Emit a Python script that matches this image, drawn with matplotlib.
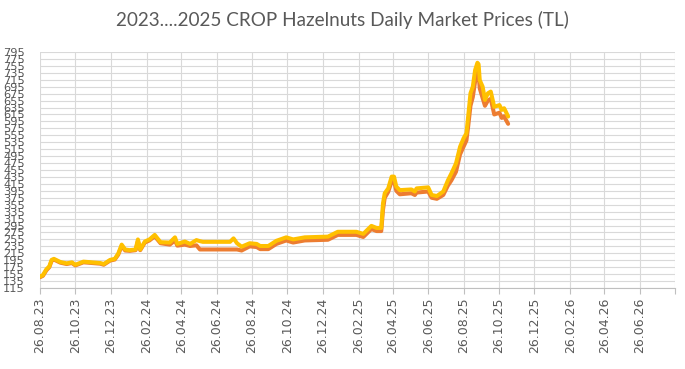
import numpy as np
import pandas as pd
import matplotlib
matplotlib.use("Agg")
import matplotlib.pyplot as plt
import matplotlib.dates as mdates

# Daily price readings (TL)
dates = [
    "2023-08-26", "2023-08-31", "2023-09-06", "2023-09-11", "2023-09-15", "2023-09-19",
    "2023-09-30", "2023-10-11", "2023-10-20", "2023-10-26", "2023-11-09", "2023-12-08",
    "2023-12-14", "2023-12-25", "2024-01-02", "2024-01-08", "2024-01-14", "2024-01-20",
    "2024-01-28", "2024-02-07", "2024-02-11", "2024-02-15", "2024-02-23", "2024-03-02",
    "2024-03-11", "2024-03-21", "2024-04-06", "2024-04-15", "2024-04-19", "2024-05-02",
    "2024-05-11", "2024-05-22", "2024-05-28", "2024-06-02", "2024-07-19", "2024-07-25",
    "2024-07-31", "2024-08-08", "2024-08-22", "2024-09-03", "2024-09-09", "2024-09-23",
    "2024-10-07", "2024-10-24", "2024-11-05", "2024-11-25", "2025-01-04", "2025-01-21",
    "2025-02-22", "2025-03-06", "2025-03-20", "2025-03-29", "2025-04-06", "2025-04-09",
    "2025-04-12", "2025-04-18", "2025-04-24", "2025-04-28", "2025-05-02", "2025-05-08",
    "2025-05-28", "2025-06-03", "2025-06-06", "2025-06-26", "2025-07-02", "2025-07-11",
    "2025-07-22", "2025-07-30", "2025-08-05", "2025-08-13", "2025-08-20", "2025-08-26",
    "2025-08-31", "2025-09-03", "2025-09-07", "2025-09-11", "2025-09-15", "2025-09-19",
    "2025-09-21", "2025-09-23", "2025-09-28", "2025-10-02", "2025-10-07", "2025-10-12",
    "2025-10-16", "2025-10-18", "2025-10-27", "2025-10-31", "2025-11-04", "2025-11-07",
    "2025-11-11",
]

price_yellow = [
    148, 152, 169, 177, 196, 199,
    190, 186, 189, 182, 191, 187,
    184, 196, 199, 214, 240, 226,
    224, 226, 255, 226, 249, 255,
    268, 247, 246, 261, 242, 249,
    242, 253, 250, 248, 248, 258,
    244, 234, 244, 242, 236, 236,
    251, 261, 255, 261, 263, 277,
    277, 271, 294, 288, 288, 359,
    388, 402, 436, 436, 407, 397,
    399, 393, 402, 405, 383, 380,
    393, 425, 445, 474, 522, 546,
    561, 609, 676, 695, 743, 764,
    760, 714, 695, 657, 676, 681,
    652, 637, 642, 628, 633, 623,
    609,
]

price_orange = [
    146, 150, 166, 175, 193, 197,
    188, 184, 187, 180, 189, 185,
    182, 194, 197, 211, 236, 223,
    222, 224, 250, 224, 246, 252,
    264, 244, 240, 252, 237, 240,
    236, 238, 226, 226, 226, 226,
    226, 223, 235, 233, 227, 227,
    242, 252, 246, 252, 254, 268,
    268, 262, 285, 279, 279, 340,
    375, 392, 422, 425, 395, 385,
    388, 383, 390, 393, 375, 372,
    383, 410, 425, 450, 500, 522,
    540, 580, 640, 665, 710, 735,
    730, 690, 662, 640, 655, 660,
    630, 615, 620, 605, 610, 600,
    588,
]

y_ticks = list(range(115, 796, 20))
x_ticks = pd.date_range("2023-08-26", "2026-08-26", freq=pd.DateOffset(months=2))

d = pd.to_datetime(dates)

fig = plt.figure(figsize=(6.85, 3.69), dpi=100)
ax = fig.add_axes([40 / 685, 1 - 288 / 369, 635 / 685, 236 / 369])

ax.plot(d, price_orange, color="#ED7D31", lw=2.9, solid_joinstyle="round", solid_capstyle="round")
ax.plot(d, price_yellow, color="#FFC000", lw=2.9, solid_joinstyle="round", solid_capstyle="round")

ax.set_ylim(115, 795)
ax.set_yticks(y_ticks)
ax.set_xlim(x_ticks[0], x_ticks[-1])
ax.set_xticks(x_ticks)
labels = [t.strftime("%d.%m.%y") for t in x_ticks]
labels[-1] = ""
ax.set_xticklabels(labels, rotation=90)

ax.grid(True, color="#D9D9D9", lw=0.8)
ax.set_axisbelow(True)
for s in ["top", "right", "left"]:
    ax.spines[s].set_visible(False)
ax.spines["bottom"].set_color("#BFBFBF")
ax.tick_params(axis="y", length=0, pad=11, labelsize=8.2, labelcolor="#595959")
ax.tick_params(axis="x", length=4, color="#BFBFBF", pad=3, labelsize=9, labelcolor="#595959")

fig.text(0.5, 1 - 20 / 369, "2023....2025 CROP Hazelnuts Daily Market Prices (TL)",
         ha="center", va="center", fontsize=13.6, color="#595959", family="Lato")

fig.savefig("out.png", dpi=100)
